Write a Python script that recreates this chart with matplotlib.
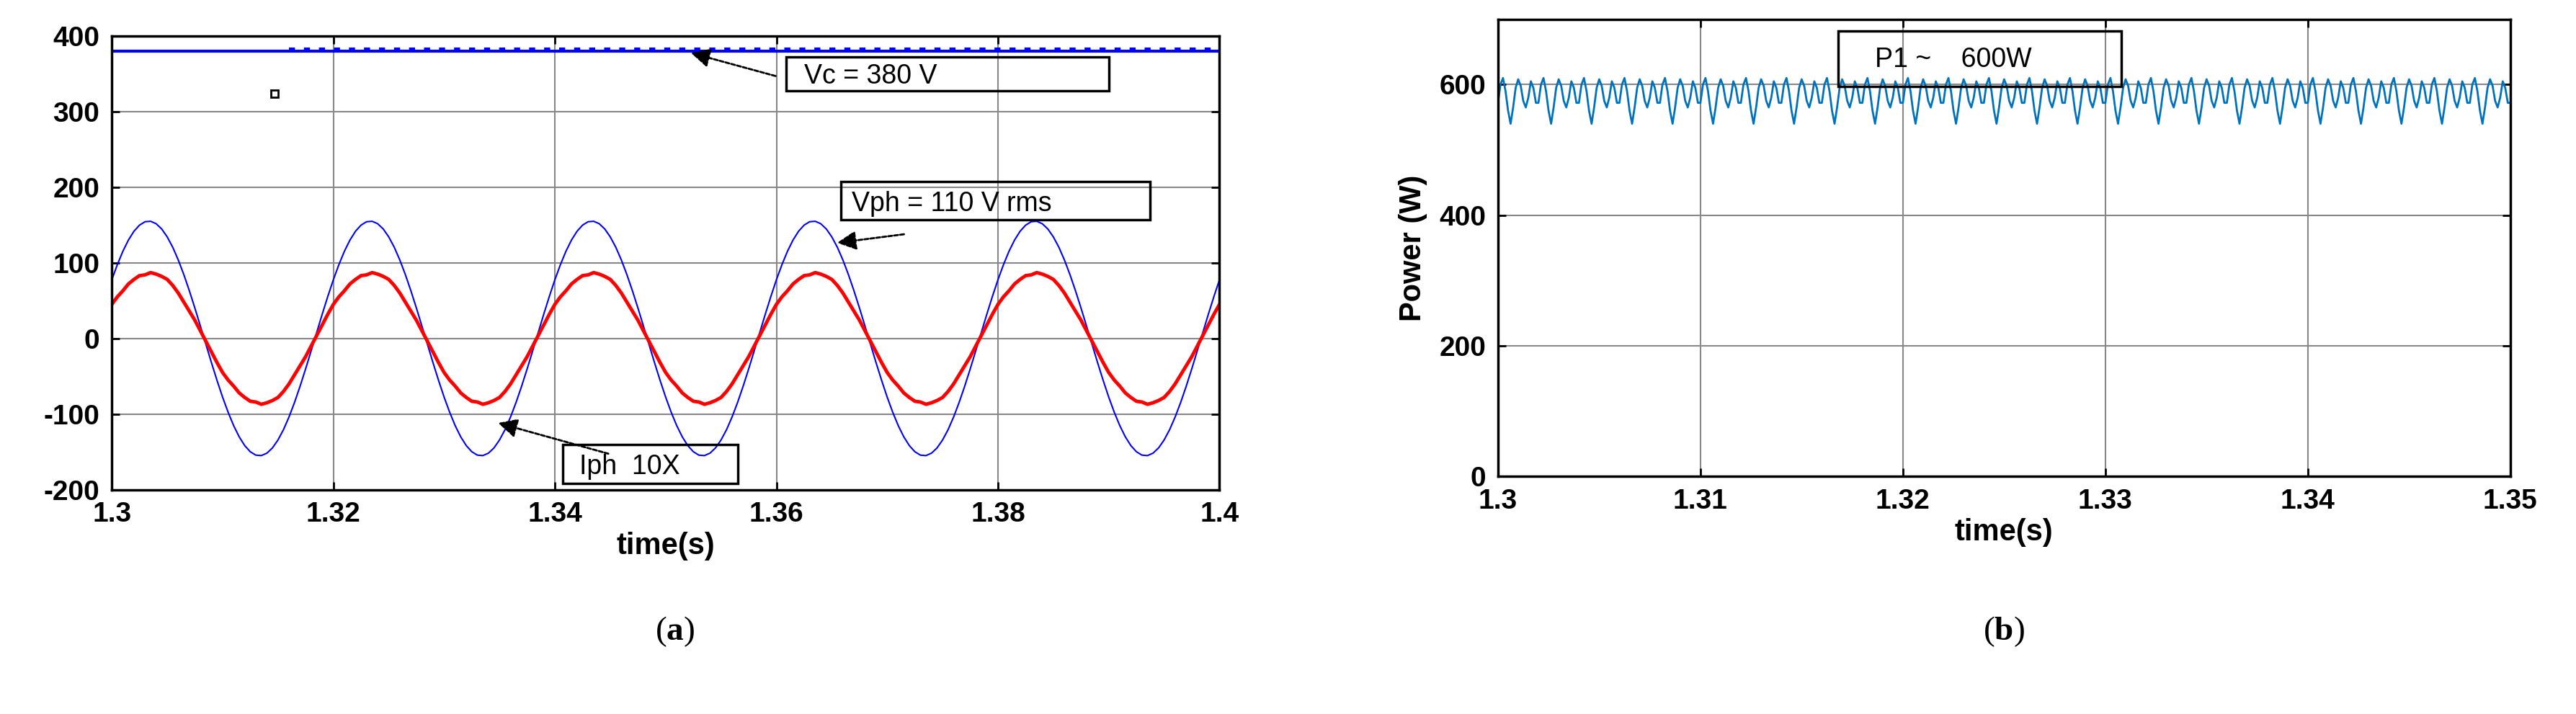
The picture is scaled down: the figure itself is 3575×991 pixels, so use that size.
import numpy as np
import matplotlib
matplotlib.use("Agg")
import matplotlib.pyplot as plt
from matplotlib.patches import Rectangle

plt.rcParams['mathtext.fontset'] = 'custom'
plt.rcParams['mathtext.rm'] = 'Liberation Serif'
plt.rcParams['mathtext.bf'] = 'Liberation Serif:bold'
plt.rcParams['axes.unicode_minus'] = False

NARROW = ['Liberation Sans Narrow', 'Liberation Sans', 'DejaVu Sans']

# ---- data (a) : sampled every 0.5 ms from t=1.300 ----
vph_cycle = [77.5, 97.5, 115.2, 130.0, 141.6, 149.7, 154.2, 154.8, 151.6, 144.7,
             134.2, 120.5, 103.7, 84.4, 63.0, 40.1, 16.2, -8.1, -32.2, -55.5,
             -77.5, -97.5, -115.2, -130.0, -141.6, -149.7, -154.2, -154.8, -151.6, -144.7,
             -134.2, -120.5, -103.7, -84.4, -63.0, -40.1, -16.2, 8.1, 32.2, 55.5]
iph_cycle = [45, 55, 63, 72, 78, 83, 84, 87, 85, 82,
             78, 70, 60, 48, 36, 24, 10, -4, -18, -32,
             -45, -55, -63, -72, -78, -83, -84, -87, -85, -82,
             -78, -70, -60, -48, -36, -24, -10, 4, 18, 32]
n_cycles_a = 5
t_a = 1.3 + 0.0005 * np.arange(40 * n_cycles_a + 1)
vph = np.array(vph_cycle * n_cycles_a + vph_cycle[:1])
iph = np.array(iph_cycle * n_cycles_a + iph_cycle[:1])
vc_level = 380
vc_ripple = 382

# ---- data (b) : sampled every 0.125 ms ----
p_cycle = [572, 600, 610, 590, 560, 540, 565, 595, 608, 598, 575, 565, 580, 605, 595, 572]
t_b = 1.3 + 0.000125 * np.arange(16 * 25 + 1)
p1 = np.array(p_cycle * 25 + p_cycle[:1])

fig = plt.figure(figsize=(35.75, 9.91), dpi=100)

def style(ax):
    ax.grid(True, color='#888888', lw=1.5)
    for s in ax.spines.values():
        s.set_linewidth(2.5)
    ax.tick_params(labelsize=28, width=2, length=8, direction='in', top=True, right=True, pad=12)
    for lab in ax.get_xticklabels() + ax.get_yticklabels():
        lab.set_fontfamily(NARROW)
        lab.set_fontweight('bold')

# (a)
ax1 = fig.add_axes([0.0434, 0.314, 0.430, 0.636])
ax1.plot(t_a, vph, color='#0000ff', lw=1.5)
ax1.plot(t_a, iph, color='#ff0000', lw=3.5)
ax1.plot([1.3, 1.4], [vc_level, vc_level], color='#0000ff', lw=3)
ax1.plot([1.316, 1.4], [vc_ripple, vc_ripple], color='#0000ff', lw=3, ls=(0, (2, 3)))
ax1.plot([1.3147], [323], marker='s', mfc='white', mec='black', ms=7, mew=2)
ax1.set_xlim(1.3, 1.4)
ax1.set_ylim(-200, 400)
ax1.set_xticks(np.arange(1.3, 1.4001, 0.02))
ax1.set_xticklabels(['1.3', '1.32', '1.34', '1.36', '1.38', '1.4'])
ax1.set_yticks(np.arange(-200, 401, 100))
ax1.set_xlabel('time(s)', fontsize=30, fontweight='bold', family='Liberation Sans', labelpad=4)
style(ax1)

boxes_a = [((1.3609, 327), 0.0291, 45.4, 'Vc = 380 V', (1.3625, 346)),
           ((1.3658, 157), 0.0279, 50.6, 'Vph = 110 V rms', (1.3668, 178)),
           ((1.3407, -192), 0.0158, 52, 'Iph  10X', (1.3422, -170))]
for (xy, w, h, txt, tpos) in boxes_a:
    ax1.add_patch(Rectangle(xy, w, h, fill=False, ec='black', lw=2.5, zorder=5))
    ax1.text(*tpos, txt, fontsize=27, family=NARROW, va='center', ha='left', zorder=6)
arrows = [((1.3601, 346), (1.3521, 378)), ((1.3717, 138), (1.3653, 126)), ((1.345, -153), (1.3347, -111))]
for start, end in arrows:
    ax1.annotate('', xy=end, xytext=start,
                 arrowprops=dict(arrowstyle='-|>', color='black', lw=2, ls=(0, (2, 1)), mutation_scale=40))

# (b)
ax2 = fig.add_axes([0.5815, 0.333, 0.393, 0.640])
ax2.plot(t_b, p1, color='#0072bd', lw=2)
ax2.set_xlim(1.3, 1.35)
ax2.set_ylim(0, 700)
ax2.set_xticks(np.arange(1.3, 1.3501, 0.01))
ax2.set_xticklabels(['1.3', '1.31', '1.32', '1.33', '1.34', '1.35'])
ax2.set_yticks([0, 200, 400, 600])
ax2.set_xlabel('time(s)', fontsize=30, fontweight='bold', family='Liberation Sans', labelpad=4)
ax2.set_ylabel('Power (W)', fontsize=30, fontweight='bold', family='Liberation Sans', labelpad=12)
style(ax2)
ax2.add_patch(Rectangle((1.3168, 597.5), 0.0140, 85, fill=False, ec='black', lw=2.5, zorder=5))
ax2.text(1.3186, 638, 'P1 ~    600W', fontsize=27, family=NARROW, va='center', ha='left', zorder=6)

fig.text(0.262, 0.115, r'($\mathbf{a}$)', fontsize=34, family='Liberation Serif', ha='center', va='center')
fig.text(0.778, 0.115, r'($\mathbf{b}$)', fontsize=34, family='Liberation Serif', ha='center', va='center')

fig.savefig('out.png', dpi=100, facecolor='white')
